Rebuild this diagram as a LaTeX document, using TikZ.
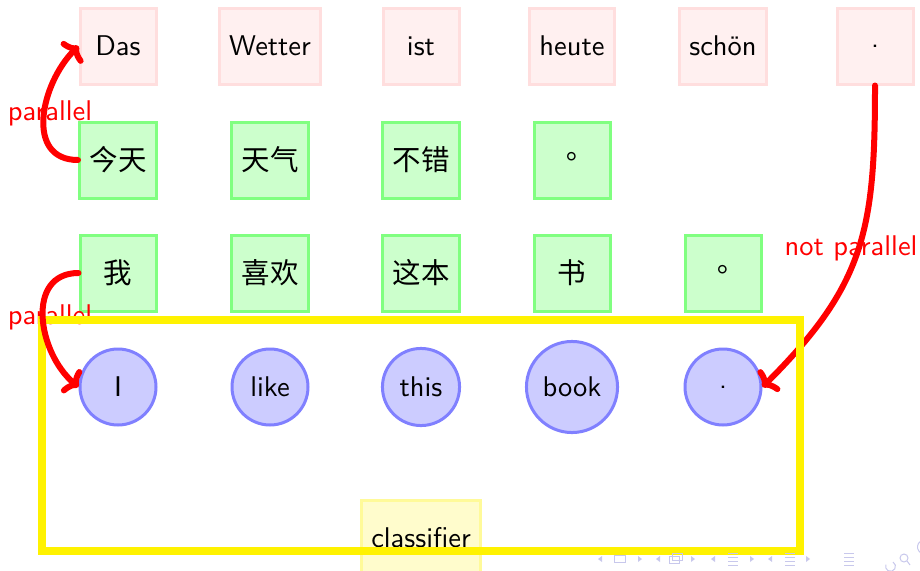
\documentclass[tikz,border=0pt]{standalone}
\usepackage{fontspec}
\setsansfont{lmsans10-regular.otf}
\newfontfamily\cjk{Noto Sans CJK SC}
\newfontfamily\cjkpunct{Noto Sans CJK TC}
\usetikzlibrary{arrows.meta}
\definecolor{navcol}{HTML}{C8C8EC}
\begin{document}
\begin{tikzpicture}[x=1pt,y=-1pt,
  every node/.style={font=\sffamily\fontsize{28.5}{30}\selectfont},
  debox/.style={draw=red!13,fill=red!6,line width=3pt,minimum width=76pt,minimum height=76pt,inner sep=10pt},
  zhbox/.style={draw=green!50,fill=green!20,line width=3pt,minimum width=76pt,minimum height=76pt,inner sep=10pt},
  enbox/.style={circle,draw=blue!50,fill=blue!20,line width=3pt,minimum size=76pt,inner sep=11pt},
  clsbox/.style={draw=yellow!40,fill=yellow!20,line width=3pt,minimum width=76pt,minimum height=76pt,inner sep=10pt},
  link/.style={draw=red,line width=6pt,line cap=round,-{To[length=12pt,width=30pt,round]}},
  linklabel/.style={text=red,inner sep=0pt},
  navsym/.style={fill=navcol,draw=none},
  navline/.style={draw=navcol,line width=1pt}]
\useasboundingbox (0,0) rectangle (920,570);

% German sentence
\node[debox] (de1) at (118,46) {Das};
\node[debox] (de2) at (270,46) {Wetter};
\node[debox] (de3) at (421,46) {ist};
\node[debox] (de4) at (572,46) {heute};
\node[debox] (de5) at (723,46) {schön};
\node[debox] (de6) at (875,46) {.};

% first Chinese sentence
\node[zhbox] (za1) at (118,160) {\cjk 今天};
\node[zhbox] (za2) at (270,160) {\cjk 天气};
\node[zhbox] (za3) at (421,160) {\cjk 不错};
\node[zhbox] (za4) at (572,160) {\cjkpunct 。};

% second Chinese sentence
\node[zhbox] (zb1) at (118,273) {\cjk 我};
\node[zhbox] (zb2) at (270,273) {\cjk 喜欢};
\node[zhbox] (zb3) at (421,273) {\cjk 这本};
\node[zhbox] (zb4) at (572,273) {\cjk 书};
\node[zhbox] (zb5) at (723,273) {\cjkpunct 。};

% English sentence
\node[enbox] (en1) at (118,387) {I};
\node[enbox] (en2) at (270,387) {like};
\node[enbox] (en3) at (421,387) {this};
\node[enbox] (en4) at (572,387) {book};
\node[enbox] (en5) at (723,387) {.};

% classifier
\node[clsbox] (cls) at (421,538) {classifier};

% labels
\node[linklabel] (lab1) at (50,113) {parallel};
\node[linklabel] (lab2) at (50,317) {parallel};
\node[linklabel] (lab3) at (851,248) {not parallel};

% not parallel link
\path[link] (de6.south) to[out=-90,in=45,looseness=1.15] (en5.east);

% classifier frame
\coordinate (fr1) at (42,320);
\coordinate (fr2) at (800,551);
\draw[yellow,line width=8pt] (fr1) rectangle (fr2);

% parallel links
\path[link] (za1.west) to[out=180,in=-135,looseness=1.2] (de1.west);
\path[link] (zb1.west) to[out=180,in=140,looseness=1.2] (en1.west);

% navigation symbols
\begin{scope}
  \foreach \lx/\rx in {600/640, 658/693, 713/752, 770/808}{
    \fill[navsym] (\lx-2,559) -- (\lx+2,556) -- (\lx+2,562) -- cycle;
    \fill[navsym] (\rx+2,559) -- (\rx-2,556) -- (\rx-2,562) -- cycle;
  }
  \draw[navline] (614,555) rectangle (625,562);
  \draw[navline] (669,556) rectangle (679,563);
  \draw[navline] (672,553) rectangle (682,560);
  \foreach \cx in {733,790,849}{
    \foreach \dy in {553,557,561,565}{
      \draw[navline] (\cx-5,\dy) -- (\cx+5,\dy);
    }
  }
  \draw[navline] (893,562) arc[start angle=-60,end angle=200,radius=5];
  \draw[navline] (904,558) circle[radius=4];
  \draw[navline] (907,561) -- (910,565);
  \draw[navline] (921,553) arc[start angle=120,end angle=240,radius=7];
\end{scope}
\end{tikzpicture}
\end{document}
